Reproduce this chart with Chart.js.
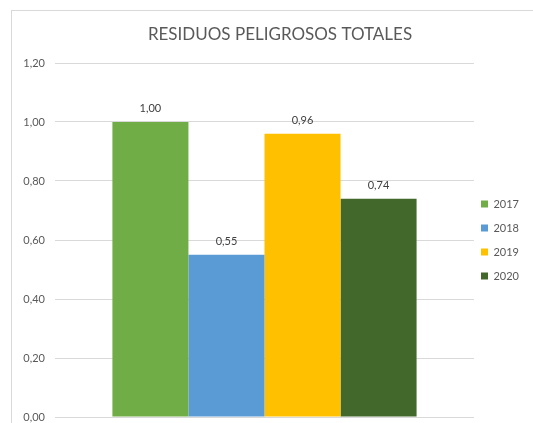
<!DOCTYPE html>
<html>
<head>
<meta charset="utf-8">
<script src="https://cdn.jsdelivr.net/npm/chart.js@4"></script>
<style>
  body { margin: 0; overflow: hidden; background: #fff; }
  #box {
    position: absolute; left: 11px; top: 10px;
    width: 536px; height: 430px;
    border: 1px solid #d9d9d9;
  }
</style>
</head>
<body>
<div id="box"><canvas id="chart" width="536" height="430"></canvas></div>
<script>
const categories = ['']
const years = ['2017', '2018', '2019', '2020']
const values = [1.00, 0.55, 0.96, 0.74]
const colors = ['#70ad47', '#5b9bd5', '#ffc000', '#43682b']
const yTicks = [0, 0.2, 0.4, 0.6, 0.8, 1.0, 1.2]
const chartTitle = 'RESIDUOS PELIGROSOS TOTALES'

const fmt = v => v.toFixed(2).replace('.', ',')

// number above each bar
const barLabels = {
    id: 'barLabels',
    afterDatasetsDraw(chart) {
        const ctx = chart.ctx
        ctx.save()
        ctx.font = '11px Lato'
        ctx.fillStyle = '#404040'
        ctx.textAlign = 'center'
        ctx.textBaseline = 'bottom'
        chart.data.datasets.forEach((ds, i) => {
            chart.getDatasetMeta(i).data.forEach((bar, j) => {
                ctx.fillText(fmt(ds.data[j]), bar.x, bar.y - 8)
            })
        })
        ctx.restore()
    }
}

// title centred on the whole canvas, not just the left part
const centerTitle = {
    id: 'centerTitle',
    afterDraw(chart) {
        const ctx = chart.ctx
        ctx.save()
        ctx.font = '17px Lato'
        ctx.fillStyle = '#595959'
        ctx.textAlign = 'center'
        ctx.textBaseline = 'middle'
        ctx.fillText(chartTitle, chart.width / 2, 24)
        ctx.restore()
    }
}

// text as one-line arrays so the row step follows the font lineHeight
const legendLabels = chart =>
    Chart.defaults.plugins.legend.labels.generateLabels(chart)
        .map(item => ({ ...item, text: [item.text] }))

new Chart(document.getElementById('chart'), {
    type: 'bar',
    data: {
        labels: categories,
        datasets: years.map((y, i) => ({
            label: y,
            data: [values[i]],
            backgroundColor: colors[i],
            categoryPercentage: 0.726,
            barPercentage: 1
        }))
    },
    options: {
        responsive: false,
        animation: false,
        layout: { padding: { left: 0, right: 19, top: 52, bottom: 24 } },
        plugins: {
            legend: {
                position: 'right',
                // empty title, only nudges the items down a little
                title: { display: true, text: '', padding: 0, font: { size: 6, lineHeight: 1 } },
                labels: {
                    boxWidth: 7,
                    boxHeight: 7,
                    padding: 7,
                    color: '#595959',
                    font: { family: 'Lato', size: 11, lineHeight: 17 / 11 },
                    generateLabels: legendLabels
                }
            },
            tooltip: { enabled: false }
        },
        scales: {
            x: { display: false },
            y: {
                min: 0,
                max: 1.2,
                afterBuildTicks: s => { s.ticks = yTicks.map(v => ({ value: v })) },
                afterFit: s => { s.width = 43 },
                ticks: {
                    padding: 10,
                    color: '#595959',
                    font: { family: 'Lato', size: 11 },
                    callback: v => fmt(v)
                },
                grid: { color: '#d9d9d9', drawTicks: false },
                border: { display: false }
            }
        }
    },
    plugins: [barLabels, centerTitle]
})
</script>
</body>
</html>
